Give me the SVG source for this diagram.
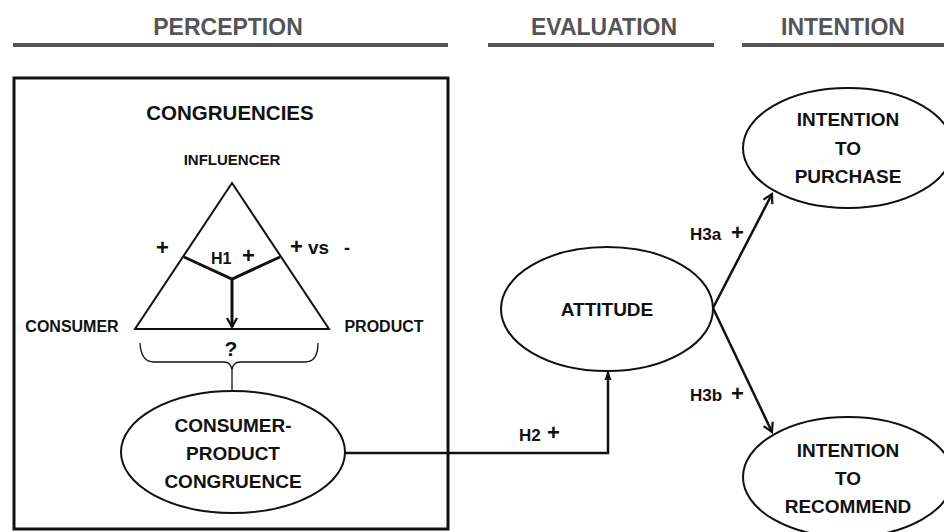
<svg xmlns="http://www.w3.org/2000/svg" width="944" height="532" viewBox="0 0 944 532">
<style>
.hdr{font-family:"Liberation Sans",Arial,sans-serif;font-weight:bold;font-size:23px;fill:#555;text-anchor:middle}
.t{font-family:"Liberation Sans",Arial,sans-serif;font-weight:bold;font-size:19px;fill:#111;text-anchor:middle}
.s{font-family:"Liberation Sans",Arial,sans-serif;font-weight:bold;font-size:16px;fill:#111;text-anchor:middle}
.lbl{font-family:"Liberation Sans",Arial,sans-serif;font-weight:bold;font-size:17px;fill:#111}
.plus{font-family:"Liberation Sans",Arial,sans-serif;font-weight:bold;font-size:22px;fill:#111}
.el{fill:#fff;stroke:#111;stroke-width:2}
.ln{fill:none;stroke:#111;stroke-width:3}
</style>
<defs>
<marker id="open" viewBox="0 0 12 12" refX="10" refY="6" markerWidth="12" markerHeight="12" markerUnits="userSpaceOnUse" orient="auto">
<path d="M1,1 L10,6 L1,11" fill="none" stroke="#111" stroke-width="2.2"/>
</marker>
<marker id="fill" viewBox="0 0 10 10" refX="9" refY="5" markerWidth="9" markerHeight="9" markerUnits="userSpaceOnUse" orient="auto">
<path d="M0,1 L10,5 L0,9 Z" fill="#111"/>
</marker>
</defs>
<g id="headers">
<text class="hdr" x="228" y="35">PERCEPTION</text>
<text class="hdr" x="604" y="35">EVALUATION</text>
<text class="hdr" x="843" y="35">INTENTION</text>
<rect x="13" y="43" width="435" height="4" fill="#555"/>
<rect x="488" y="43" width="226" height="4" fill="#555"/>
<rect x="742" y="43" width="202" height="4" fill="#555"/>
</g>
<g id="perception-box">
<rect x="14" y="78" width="434" height="451" fill="none" stroke="#111" stroke-width="3"/>
<text class="t" x="230" y="120" style="font-size:20.5px">CONGRUENCIES</text>
</g>
<g id="triangle">
<text class="s" x="232" y="165" style="font-size:15px">INFLUENCER</text>
<path d="M232,183 L329,329 L135,329 Z" fill="none" stroke="#111" stroke-width="2"/>
<path d="M184,257 L232,279 L280,257" class="ln"/>
<line x1="232" y1="279" x2="232" y2="327" class="ln" marker-end="url(#open)"/>
<text class="plus" x="156" y="255">+</text>
<text class="lbl" x="211" y="264" style="font-size:16px">H1</text>
<text class="plus" x="242" y="263">+</text>
<text class="plus" x="290" y="254">+</text>
<text class="lbl" x="308" y="254" style="font-size:19px">vs</text>
<text class="lbl" x="344" y="254" style="font-size:18px">-</text>
<text class="s" x="72" y="332">CONSUMER</text>
<text class="s" x="384" y="332">PRODUCT</text>
<text class="t" x="231" y="356" style="font-size:21px">?</text>
<path d="M140,343 Q141,362 154,362 L224,362 Q231,362 232,370 Q233,362 240,362 L305,362 Q318,362 318,343" fill="none" stroke="#111" stroke-width="1.3"/>
<line x1="232" y1="370" x2="232" y2="391" stroke="#111" stroke-width="1.3"/>
</g>
<g id="congruence">
<ellipse class="el" cx="233" cy="452" rx="112" ry="61"/>
<text class="t" x="233" y="432">CONSUMER-</text>
<text class="t" x="233" y="460">PRODUCT</text>
<text class="t" x="233" y="488">CONGRUENCE</text>
</g>
<g id="attitude">
<ellipse class="el" cx="607" cy="309" rx="106" ry="62"/>
<text class="t" x="607" y="316">ATTITUDE</text>
</g>
<g id="purchase">
<ellipse class="el" cx="848" cy="148" rx="105" ry="60"/>
<text class="t" x="848" y="126">INTENTION</text>
<text class="t" x="848" y="155">TO</text>
<text class="t" x="848" y="183">PURCHASE</text>
</g>
<g id="recommend">
<ellipse class="el" cx="848" cy="477" rx="105" ry="60"/>
<text class="t" x="848" y="457">INTENTION</text>
<text class="t" x="848" y="485">TO</text>
<text class="t" x="848" y="513">RECOMMEND</text>
</g>
<g id="connectors">
<path d="M345,453 L608,453 L608,372" fill="none" stroke="#111" stroke-width="2.5" marker-end="url(#fill)"/>
<line x1="713" y1="308" x2="772" y2="194" stroke="#111" stroke-width="2.5" marker-end="url(#open)"/>
<line x1="713" y1="308" x2="772" y2="432" stroke="#111" stroke-width="2.5" marker-end="url(#open)"/>
<text class="lbl" x="519" y="441">H2</text>
<text class="plus" x="547" y="440">+</text>
<text class="lbl" x="690" y="240">H3a</text>
<text class="plus" x="731" y="240">+</text>
<text class="lbl" x="690" y="401">H3b</text>
<text class="plus" x="731" y="401">+</text>
</g>
</svg>
